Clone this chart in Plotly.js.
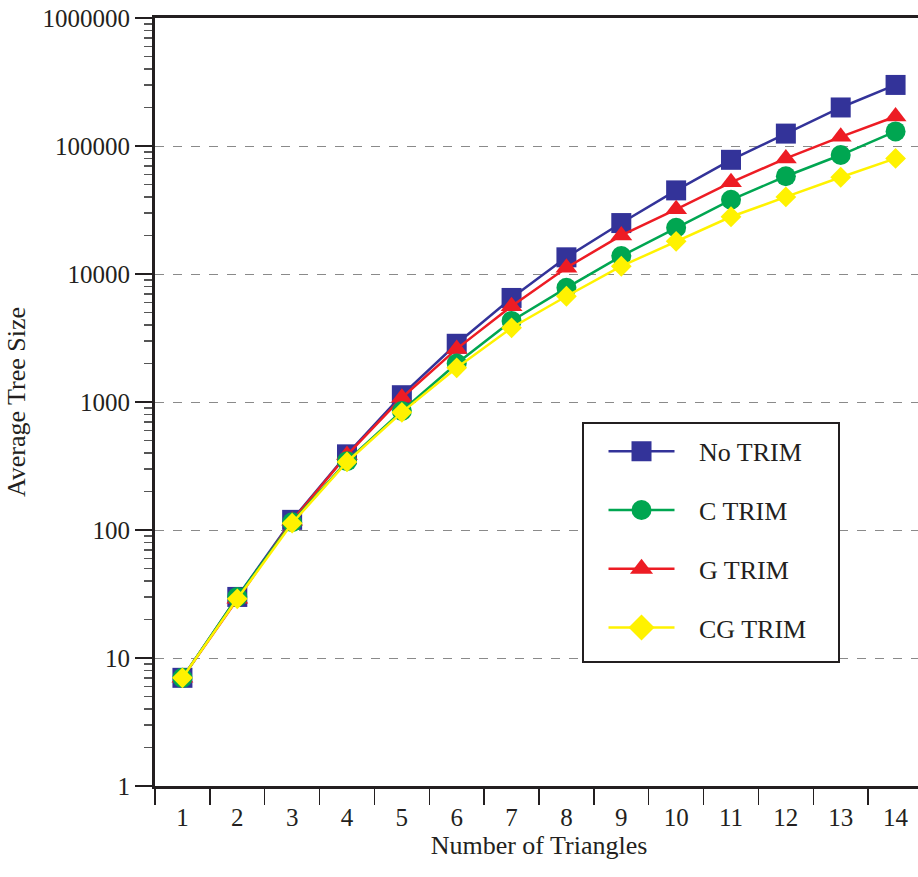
<!DOCTYPE html>
<html>
<head>
<meta charset="utf-8">
<script src="https://cdn.plot.ly/plotly-3.0.1.min.js"></script>
<style>
html,body{margin:0;padding:0;overflow:hidden;background:#fff;}
#chart{width:923px;height:877px;}
</style>
</head>
<body>
<div id="chart"></div>
<script>
const triangles = ['1','2','3','4','5','6','7','8','9','10','11','12','13','14'];
const noTrim = [7, 30, 120, 390, 1130, 2850, 6500, 13500, 25000, 45000, 78000, 125000, 200000, 300000];
const cTrim  = [7, 30, 115, 345, 850, 2000, 4300, 7800, 13800, 23000, 38000, 58000, 85000, 130000];
const gTrim  = [7, 29, 118, 385, 1080, 2600, 5600, 11200, 20000, 32000, 52000, 80000, 118000, 170000];
const cgTrim = [7, 29, 113, 340, 830, 1850, 3800, 6700, 11500, 18000, 28000, 40000, 57000, 80000];
const yTickVals = [1, 10, 100, 1000, 10000, 100000, 1000000];
const yTickText = ['1', '10', '100', '1000', '10000', '100000', '1000000'];

const FONT = 'Liberation Serif, Times New Roman, serif';
const TXT = '#231f20';

function tr(name, y, color, symbol, size, rank) {
  return {
    type: 'scatter', mode: 'lines+markers', name: name,
    x: triangles, y: y,
    line: {color: color, width: 2.5},
    marker: {color: color, symbol: symbol, size: size},
    legendgroup: name, legendrank: rank
  };
}

const data = [
  tr('No TRIM', noTrim, '#333399', 'square', 20, 1),
  tr('G TRIM', gTrim, '#ed1c24', 'triangle-up', 19, 3),
  tr('C TRIM', cTrim, '#00a651', 'circle', 20, 2),
  tr('CG TRIM\u00a0\u00a0\u00a0\u00a0', cgTrim, '#fff200', 'diamond', 16, 4)
];

const layout = {
  width: 923, height: 877,
  margin: {l: 155, r: 0, t: 18, b: 91},
  paper_bgcolor: '#fff', plot_bgcolor: '#fff',
  font: {family: FONT, color: TXT, size: 25},
  showlegend: true,
  legend: {
    x: 0.556, y: 0.469, xanchor: 'left', yanchor: 'top',
    bgcolor: '#fff', bordercolor: TXT, borderwidth: 2,
    font: {family: FONT, size: 26, color: TXT},
    tracegroupgap: 22, itemwidth: 105,
    traceorder: 'grouped'
  },
  xaxis: {
    type: 'category', range: [-0.5, 13.5],
    tickson: 'boundaries', ticks: 'outside', ticklen: 16, tickwidth: 1.5, tickcolor: TXT,
    ticklabelstandoff: 7,
    showgrid: false, zeroline: false,
    showline: true, linewidth: 3, linecolor: TXT, mirror: true,
    tickfont: {family: FONT, size: 25, color: TXT},
    title: {text: 'Number of Triangles', font: {family: FONT, size: 26, color: TXT}, standoff: 4},
    fixedrange: true
  },
  yaxis: {
    type: 'log', range: [0, 6],
    tickmode: 'array', tickvals: yTickVals, ticktext: yTickText,
    ticks: 'outside', ticklen: 17, tickwidth: 1.5, tickcolor: TXT,
    minor: {ticks: 'outside', ticklen: 8, tickwidth: 1.5, tickcolor: '#555', dtick: 'D1', showgrid: false},
    showgrid: true, gridcolor: '#8a8a8a', gridwidth: 1, griddash: 'dash',
    zeroline: false,
    showline: true, linewidth: 3, linecolor: TXT, mirror: true,
    tickfont: {family: FONT, size: 25, color: TXT},
    title: {text: 'Average Tree Size', font: {family: FONT, size: 26, color: TXT}, standoff: 10},
    fixedrange: true
  }
};

Plotly.newPlot('chart', data, layout, {displayModeBar: false, staticPlot: true}).then(function (gd) {
  // legend styling: sample lines centred on a full-size marker, a little more padding
  gd.querySelectorAll('.legend .traces').forEach(function (g) {
    const pt = g.querySelector('.legendpoints path');
    const ln = g.querySelector('.legendlines path');
    if (!pt || !ln) return;
    const tf = pt.getAttribute('transform') || '';
    const m = /translate\(([-\d.]+)/.exec(tf);
    const cx = m ? parseFloat(m[1]) : 20;
    ln.setAttribute('d', 'M' + (cx - 33) + ',0h66');
    pt.setAttribute('transform', tf + ' scale(1.25)');
  });
  const bg = gd.querySelector('.legend rect.bg');
  if (bg) {
    const y0 = parseFloat(bg.getAttribute('y') || 0);
    const h0 = parseFloat(bg.getAttribute('height') || 0);
    bg.setAttribute('y', y0 - 4);
    bg.setAttribute('height', h0 + 13);
  }
});
</script>
</body>
</html>
